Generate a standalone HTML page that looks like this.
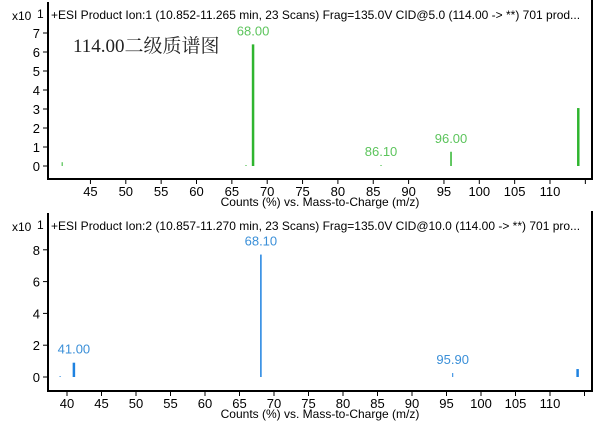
<!DOCTYPE html>
<html><head><meta charset="utf-8"><style>
html,body{margin:0;padding:0;background:#fff;}
svg{display:block;font-family:"Liberation Sans","Noto Sans CJK SC",sans-serif;}
</style></head><body>
<svg id="c" width="604" height="422" viewBox="0 0 604 422"></svg>
<script>
const topMz = [41, 67, 68, 86.1, 96, 114];
const topInt = [0.2, 0.05, 6.4, 0.05, 0.75, 3.05];
const topLabels = ["", "", "68.00", "86.10", "96.00", ""];
const botMz = [39, 41, 68.1, 95.9, 114];
const botInt = [0.05, 0.9, 7.7, 0.25, 0.5];
const botLabels = ["", "41.00", "68.10", "95.90", ""];
const topXTicks = [45,50,55,60,65,70,75,80,85,90,95,100,105,110];
const botXTicks = [40,45,50,55,60,65,70,75,80,85,90,95,100,105,110];
const topYTicks = [0,1,2,3,4,5,6,7];
const botYTicks = [0,2,4,6,8];

const NS="http://www.w3.org/2000/svg";
const svg=document.getElementById('c');
function mk(tag,attrs,parent,text){const e=document.createElementNS(NS,tag);for(const k in attrs)e.setAttribute(k,attrs[k]);if(text!==undefined)e.textContent=text;(parent||svg).appendChild(e);return e;}

function panel(o){
  const g=mk('g',{});
  
  
  const xs=v=>550+(v-110)*o.kx;
  const ys=v=>o.y0-v*o.ky;
  const ax=mk('path',{d:`M48 ${o.top} V${o.base} H592 V${o.top-2}`,fill:'none',stroke:'#000','stroke-width':2},g);
  
  
  o.yTicks.forEach(t=>{
    const y=ys(t);
    const tk=mk('line',{x1:43,x2:48,y1:y,y2:y,stroke:'#000'},g);
    
    
    const lb=mk('text',{x:40,y:y+5,'text-anchor':'end','font-size':13,fill:'#000'},g,String(t));
    
    
  });
  const xl=mk('text',{x:12,y:o.top+18,'font-size':12,fill:'#000'},g,'x10');
  
  
  const one=mk('text',{x:37,y:o.top+16,'font-size':12,fill:'#000'},g,'1');
  
  
  o.xTicks.forEach(t=>{
    const x=xs(t);
    const tk=mk('line',{x1:x,x2:x,y1:o.base,y2:o.base+5,stroke:'#000'},g);
    
    
    const lb=mk('text',{x:x,y:o.base+17,'text-anchor':'middle','font-size':13,fill:'#000'},g,String(t));
    
    
  });
  const ext=mk('line',{x1:xs(115),x2:xs(115),y1:o.base,y2:o.base+5,stroke:'#000'},g);
  
  
  const xt=mk('text',{x:320,y:o.base+27,'text-anchor':'middle','font-size':12,fill:'#000'},g,'Counts (%) vs. Mass-to-Charge (m/z)');
  
  
  const tt=mk('text',{x:51,y:o.top+17,'font-size':12,fill:'#000'},g,o.title);
  
  
  o.mz.forEach((m,i)=>{
    const x=xs(m), y1=ys(0), y2=ys(o.int[i]);
    const p=mk('line',{x1:x,x2:x,y1:y1,y2:Math.min(y2,y1-1),stroke:o.color,'stroke-width':o.w[i]},g);
    
    
    if(o.labels[i]){
      const l=mk('text',{x:x,y:y2-9,'text-anchor':'middle','font-size':13,fill:o.lc},g,o.labels[i]);
      
      
    }
  });
}
panel({name:'top-spectrum-panel',top:2,base:179,y0:166,ky:19,kx:7.07,yTicks:topYTicks,xTicks:topXTicks,
  title:'+ESI Product Ion:1 (10.852-11.265 min, 23 Scans) Frag=135.0V CID@5.0 (114.00 -> **) 701 prod...',
  mz:topMz,int:topInt,labels:topLabels,color:'#2fb52f',lc:'#5cc45c',w:[1,1,2.5,1,1.5,2.5]});
panel({name:'bottom-spectrum-panel',top:213,base:391,y0:377,ky:15.9,kx:6.9,yTicks:botYTicks,xTicks:botXTicks,
  title:'+ESI Product Ion:2 (10.857-11.270 min, 23 Scans) Frag=135.0V CID@10.0 (114.00 -> **) 701 pro...',
  mz:botMz,int:botInt,labels:botLabels,color:'#1e82e0',lc:'#3a8fd8',w:[1,2.5,1.5,1,2.5]});
const ann=mk('text',{x:73,y:52,'font-size':19,fill:'#222','font-family':'"Liberation Serif","Noto Serif CJK SC",serif'},svg,'114.00二级质谱图');


</script>
</body></html>
